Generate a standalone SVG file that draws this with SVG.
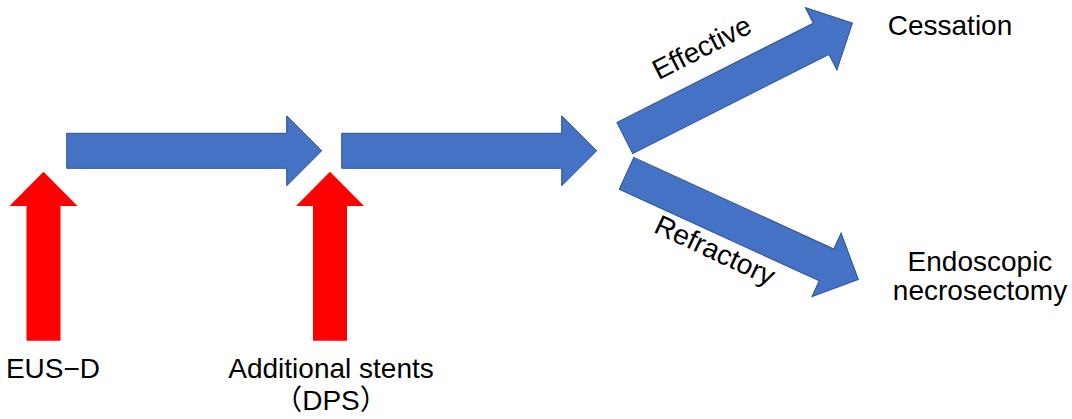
<svg xmlns="http://www.w3.org/2000/svg" width="1072" height="419" viewBox="0 0 1072 419">
<style>
.blue{fill:#4472C4;stroke:#2F528F;stroke-width:1}
.red{fill:#FF0000}
.t{font-family:"Liberation Sans","Noto Sans CJK JP",sans-serif;font-size:28px;fill:#000}
</style>
<defs>
<path id="barrow" d="M0,-17.5 H220 V-35 L255,0 L220,35 V17.5 H0 Z"/>
<path id="rarrow" d="M0,0 L34,34.3 H17 V169 H-17 V34.3 H-34 Z"/>
</defs>
<rect width="1072" height="419" fill="#fff"/>
<g id="connectors">
<use href="#barrow" class="blue" transform="translate(66.7,150.8)"/>
<use href="#barrow" class="blue" transform="translate(341.7,150.8)"/>
<use href="#barrow" class="blue" transform="translate(624.8,138) rotate(-26.8)"/>
<use href="#barrow" class="blue" transform="translate(626.5,173.3) rotate(24.6)"/>
</g>
<g id="eusd">
<use href="#rarrow" class="red" transform="translate(43.5,171.7)"/>
<text class="t" x="53" y="378" text-anchor="middle">EUS−D</text>
</g>
<g id="dps">
<use href="#rarrow" class="red" transform="translate(330,171.7)"/>
<text class="t" x="331" y="378" text-anchor="middle">Additional stents</text>
<text class="t" x="331" y="410" text-anchor="middle">（DPS）</text>
</g>
<g id="effective">
<text class="t" x="0" y="0" text-anchor="middle" transform="translate(706,56) rotate(-27)">Effective</text>
</g>
<g id="refractory">
<text class="t" x="0" y="0" text-anchor="middle" transform="translate(711,259) rotate(25)">Refractory</text>
</g>
<g id="cessation">
<text class="t" x="950" y="35" text-anchor="middle">Cessation</text>
</g>
<g id="necrosectomy">
<text class="t" x="980" y="271" text-anchor="middle">Endoscopic</text>
<text class="t" x="980" y="300" text-anchor="middle">necrosectomy</text>
</g>
</svg>
